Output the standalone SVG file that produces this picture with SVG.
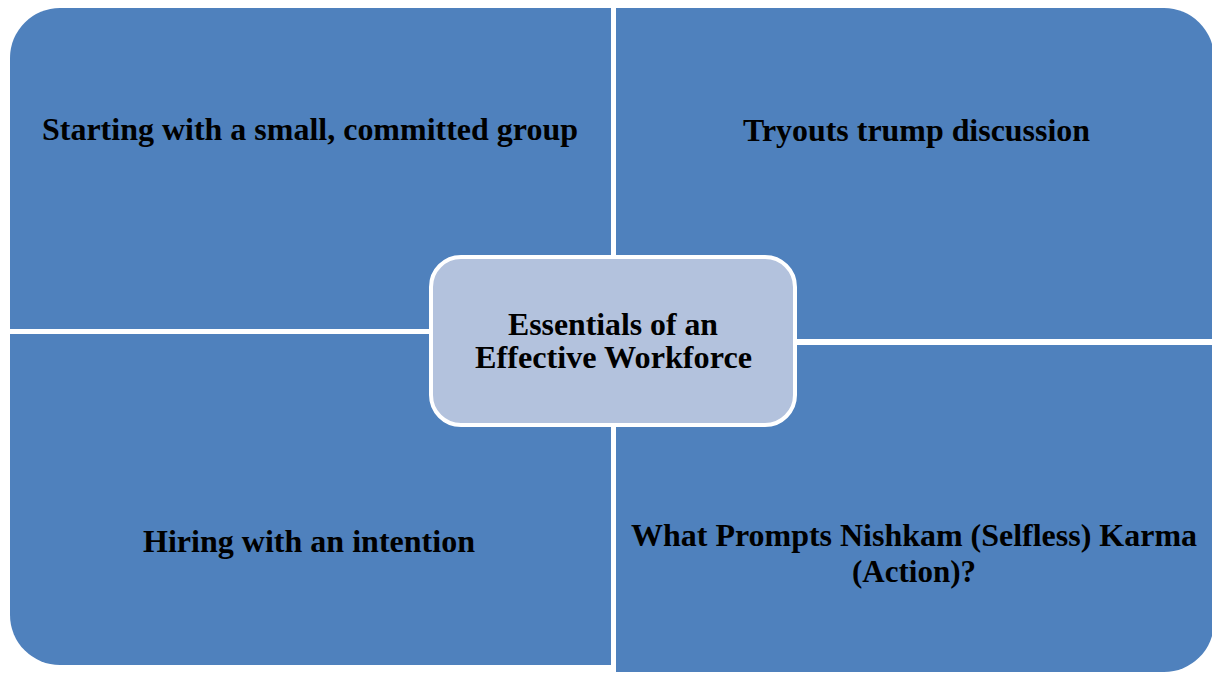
<svg xmlns="http://www.w3.org/2000/svg" width="1212" height="673" viewBox="0 0 1212 673">
<style>
.q{fill:#4F81BD}
.c{fill:#B3C2DD;stroke:#FFFFFF;stroke-width:4}
.t{font-family:"Liberation Serif","Times New Roman",serif;font-weight:bold;font-size:31px;fill:#000;text-anchor:middle}
</style>
<rect width="1212" height="673" fill="#FFFFFF"/>
<g id="q-top-left">
<path class="q" d="M10,58 A50,50 0 0 1 60,8 L611,8 L611,329 L10,329 Z"/>
<text class="t" x="310" y="140" textLength="536" lengthAdjust="spacingAndGlyphs">Starting with a small, committed group</text>
</g>
<g id="q-top-right">
<path class="q" d="M616,8 L1164,8 A50,50 0 0 1 1214,58 L1214,339 L616,339 Z"/>
<text class="t" x="916.5" y="141" textLength="347" lengthAdjust="spacingAndGlyphs">Tryouts trump discussion</text>
</g>
<g id="q-bottom-left">
<path class="q" d="M10,334 L611,334 L611,665 L60,665 A50,50 0 0 1 10,615 Z"/>
<text class="t" x="309" y="552" textLength="332" lengthAdjust="spacingAndGlyphs">Hiring with an intention</text>
</g>
<g id="q-bottom-right">
<path class="q" d="M616,345 L1214,345 L1214,622 A50,50 0 0 1 1164,672 L616,672 Z"/>
<text class="t" x="914" y="546" textLength="566" lengthAdjust="spacingAndGlyphs">What Prompts Nishkam (Selfless) Karma</text>
<text class="t" x="914" y="582">(Action)?</text>
</g>
<g id="center">
<rect class="c" x="431" y="257" width="364" height="168" rx="30" ry="30"/>
<text class="t" x="613" y="335" textLength="210" lengthAdjust="spacingAndGlyphs">Essentials of an</text>
<text class="t" x="613.5" y="368" textLength="277" lengthAdjust="spacingAndGlyphs">Effective Workforce</text>
</g>
<g id="connectors"></g>
</svg>
